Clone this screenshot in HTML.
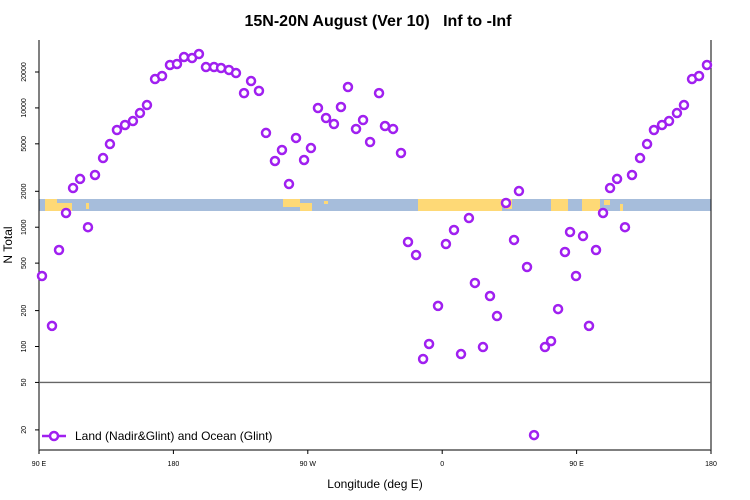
<!DOCTYPE html>
<html><head><meta charset="utf-8"><style>
body{margin:0;background:#fff;}
svg{display:block;font-family:"Liberation Sans",sans-serif;}
</style></head><body>
<svg id="chart" width="750" height="500" viewBox="0 0 750 500">
<text x="378" y="26" text-anchor="middle" font-size="16" font-weight="bold" style="white-space:pre" xml:space="preserve">15N-20N August (Ver 10)   Inf to -Inf</text>
<g id="map"></g>
<g id="axes"></g>
<g id="marks"></g>
<text x="375" y="488" text-anchor="middle" font-size="12">Longitude (deg E)</text>
<text transform="translate(12,245) rotate(-90)" text-anchor="middle" font-size="12">N Total</text>
<g>
<line x1="42" y1="436" x2="66" y2="436" stroke="#a020f0" stroke-width="2.5"/>
<circle cx="54" cy="436" r="4" fill="#fff" stroke="#a020f0" stroke-width="2.5"/>
<text x="75" y="440" font-size="12">Land (Nadir&amp;Glint) and Ocean (Glint)</text>
</g>
</svg>
<script>
const lons=[92.0,98.7,103.4,108.1,112.8,117.5,122.8,127.5,132.9,137.5,142.2,147.6,152.9,157.6,162.3,167.7,172.4,177.7,182.4,187.1,192.5,197.1,201.8,207.2,211.9,217.2,221.9,227.3,232.0,237.3,242.0,248.0,252.7,257.4,262.1,267.5,272.1,276.8,282.2,287.5,292.2,296.9,302.3,307.0,311.7,317.7,321.7,327.1,332.4,337.1,342.5,347.2,351.2,357.2,362.5,367.9,372.6,377.9,381.9,387.3,392.0,396.7,402.7,408.1,411.4,416.8,421.5,428.8,432.9,437.6,442.2,445.6,449.6,454.3,458.3,463.0,467.7,472.4,477.1,482.4,487.1,492.5,497.2,501.8,507.2,511.9,517.2,521.9,527.3,532.0,537.3];
const counts=[390,149,644,1316,2130,2540,1000,2740,3800,4980,6530,7190,7760,9060,10570,17460,18520,22900,23350,26700,26200,28300,22000,22000,21600,20800,19600,13300,16800,13900,6170,3590,4440,2300,5600,3660,4610,9980,8230,7330,10180,14970,6660,7920,5180,13300,7050,6660,4190,752,585,78.6,105,219,723,948,86.5,1194,341,99,265,180,1596,782,2010,464,18.1,99,111,206,620,912,390,843,149,644,1316,2130,2540,1000,2740,3800,4980,6530,7190,7760,9060,10570,17460,18520,22900];
const yTicks=[20,50,100,200,500,1000,2000,5000,10000,20000];
const xTicks=[90,180,270,360,450,540];
const xTickLabels=["90 E","180","90 W","0","90 E","180"];
const refLine=50;

const L=39,R=711,T=40,B=450;
const xs=v=>L+(v-90)/(540-90)*(R-L);
const ys=v=>72+(Math.log10(20000)-Math.log10(v))*119.3;
const NS="http://www.w3.org/2000/svg";
function mk(tag,attrs,parent){const e=document.createElementNS(NS,tag);for(const k in attrs)e.setAttribute(k,attrs[k]);parent.appendChild(e);return e;}

const map=document.getElementById('map');
mk('rect',{x:L,y:199,width:R-L,height:12,fill:'#a6bddb'},map);
const land=[[45,57,199,211],[57,72,203,211],[86,89,203,209],[283,300,199,207],[300,312,203,211],[324,328,201,204],[418,502,199,211],[505,512,199,209],[551,568,199,211],[582,600,199,211],[604,610,200,205],[620,623,204,211]];
land.forEach(s=>mk('rect',{x:s[0],y:s[2],width:s[1]-s[0],height:s[3]-s[2],fill:'#fed976'},map));

const ax=document.getElementById('axes');
mk('line',{x1:L,y1:T,x2:L,y2:B,stroke:'#000','stroke-width':1},ax);
mk('line',{x1:R,y1:T,x2:R,y2:B,stroke:'#000','stroke-width':1},ax);
mk('line',{x1:L,y1:B,x2:R,y2:B,stroke:'#555','stroke-width':1.5},ax);
const rl=mk('line',{x1:L,y1:ys(refLine),x2:R,y2:ys(refLine),stroke:'#666','stroke-width':1.3},ax);


yTicks.forEach(t=>{
  const y=ys(t);
  mk('line',{x1:L-4,y1:y,x2:L,y2:y,stroke:'#000'},ax);
  const tx=mk('text',{transform:`translate(26,${y}) rotate(-90)`,'text-anchor':'middle','font-size':7},ax);
  tx.textContent=t;
  
  
});
xTicks.forEach((t,i)=>{
  const x=xs(t);
  mk('line',{x1:x,y1:B,x2:x,y2:B+4,stroke:'#000'},ax);
  const tx=mk('text',{x:x,y:466,'text-anchor':'middle','font-size':7},ax);
  tx.textContent=xTickLabels[i];
  
  
});

const mg=document.getElementById('marks');
lons.forEach((lo,i)=>{
  const c=mk('circle',{cx:xs(lo),cy:ys(counts[i]),r:4,fill:'#fff',stroke:'#a020f0','stroke-width':2.5},mg);
  
  
});
</script>
</body></html>
